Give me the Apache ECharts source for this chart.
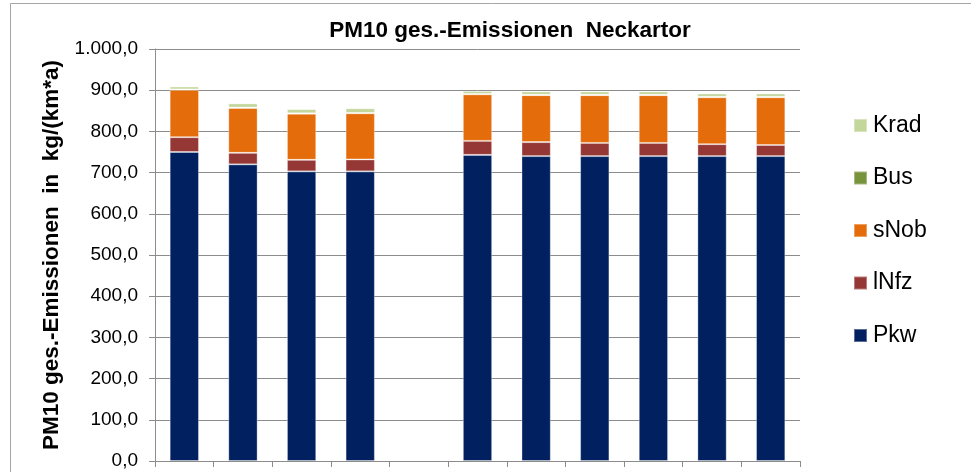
<!DOCTYPE html>
<html><head><meta charset="utf-8">
<script src="https://cdn.jsdelivr.net/npm/echarts@6/dist/echarts.min.js"></script>
<style>html,body{margin:0;padding:0;background:#fff}#c{width:971px;height:472px}</style>
</head><body><div id="c"></div>
<script>
var categories = ['1','2','3','4','5','6','7','8','9','10','11'];
var pkw   = [750, 720, 703, 703, null, 743, 740, 740, 740, 740, 740];
var lnfz  = [36, 28, 28, 29, null, 34, 34, 32, 32, 29, 27];
var snob  = [115, 109, 112, 112, null, 113, 114, 116, 116, 114, 116];
var bus   = [1, 1, 1, 1, null, 1, 1, 1, 1, 1, 1];
var krad  = [7, 10, 10, 11, null, 7, 8, 8, 8, 8, 8];
var seriesNames = ['Pkw', 'lNfz', 'sNob', 'Bus', 'Krad'];
var colors = ['#002060', '#953735', '#E46C0A', '#77933C', '#C3D69B'];
var yTicks = { min: 0, max: 1000, interval: 100 };

var chart = echarts.init(document.getElementById('c'));
var font = 'Liberation Sans, Arial, sans-serif';
var dataSets = [pkw, lnfz, snob, bus, krad];
var series = seriesNames.map(function (n, i) {
  return {
    name: n, type: 'bar', stack: 'all', data: dataSets[i],
    barWidth: '50%',
    itemStyle: { color: colors[i], borderColor: 'rgba(255,255,255,0.35)', borderWidth: 1 }
  };
});
chart.setOption({
  animation: false,
  color: colors,
  title: {
    text: 'PM10 ges.-Emissionen  Neckartor',
    left: 505, top: 14, textAlign: 'center',
    textStyle: { fontFamily: font, fontSize: 22.5, fontWeight: 'bold', color: '#000' }
  },
  legend: {
    orient: 'vertical', left: 848, top: 109,
    data: ['Krad', 'Bus', 'sNob', 'lNfz', 'Pkw'],
    icon: 'rect', itemWidth: 13, itemHeight: 13, itemGap: 29.5,
    textStyle: { fontFamily: font, fontSize: 23, color: '#000', padding: [0, 0, 0, 1] }
  },
  grid: { left: 155, right: 171, top: 49, bottom: 11, containLabel: false },
  xAxis: {
    type: 'category', data: categories,
    axisLine: { lineStyle: { color: '#8c8c8c', width: 1 } },
    axisTick: { show: true, length: 6, lineStyle: { color: '#8c8c8c' } },
    axisLabel: { show: false },
    splitLine: { show: false }
  },
  yAxis: {
    type: 'value', min: yTicks.min, max: yTicks.max, interval: yTicks.interval,
    name: 'PM10 ges.-Emissionen  in  kg/(km*a)',
    nameLocation: 'middle', nameGap: 92, nameRotate: 90,
    nameTextStyle: { fontFamily: font, fontSize: 22.5, fontWeight: 'bold', color: '#000' },
    axisLine: { show: true, lineStyle: { color: '#8c8c8c' } },
    axisTick: { show: true, length: 6, lineStyle: { color: '#8c8c8c' } },
    axisLabel: {
      fontFamily: font, fontSize: 19, color: '#000', margin: 17,
      formatter: function (v) {
        var s = v.toFixed(1).replace('.', ',');
        var parts = s.split(',');
        parts[0] = parts[0].replace(/\B(?=(\d{3})+(?!\d))/g, '.');
        return parts.join(',');
      }
    },
    splitLine: { lineStyle: { color: '#8c8c8c', width: 1 } }
  },
  graphic: [{
    type: 'rect', shape: { x: 10.5, y: 3.5, width: 1000, height: 600 },
    style: { fill: 'none', stroke: '#a6a6a6', lineWidth: 1 }, silent: true, z: -1
  }],
  series: series
});
</script></body></html>
